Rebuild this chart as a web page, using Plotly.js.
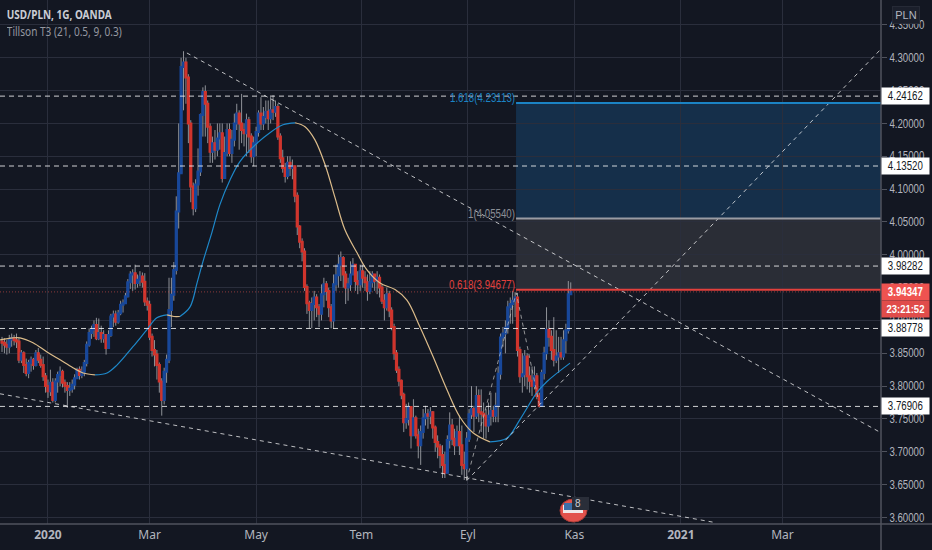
<!DOCTYPE html>
<html><head><meta charset="utf-8">
<script src="https://cdn.plot.ly/plotly-3.0.1.min.js"></script>
<style>html,body{margin:0;padding:0;background:#131722}#c{width:932px;height:550px}</style>
</head><body><div id="c"></div>
<script>
const closes=[
3.866,3.863,3.860,3.871,3.873,3.870,3.868,3.840,3.850,3.832,
3.820,3.835,3.840,3.832,3.850,3.840,3.832,3.815,3.800,3.792,
3.805,3.779,3.807,3.817,3.822,3.805,3.800,3.794,3.796,3.802,
3.812,3.825,3.817,3.822,3.835,3.863,3.881,3.886,3.893,3.873,
3.881,3.873,3.878,3.858,3.878,3.906,3.909,3.898,3.911,3.924,
3.926,3.937,3.958,3.970,3.972,3.957,3.962,3.967,3.959,3.929,
3.924,3.875,3.855,3.848,3.832,3.807,3.779,3.822,3.840,3.916,
3.939,3.977,
4.066,4.124,4.286,4.293,4.270,4.200,4.104,4.071,4.107,4.127,
4.213,4.248,4.230,4.195,4.157,4.170,4.160,4.177,4.185,4.117,
4.155,4.190,4.155,4.175,4.200,4.215,4.200,4.190,4.185,4.205,
4.180,4.150,4.170,4.187,4.215,4.200,4.210,4.218,4.208,4.220,
4.218,4.225,4.180,4.147,4.132,4.120,4.140,4.132,4.135,4.090,
4.043,
4.020,4.005,3.951,3.926,3.916,3.925,3.935,3.920,3.910,3.940,
3.955,3.945,3.920,3.900,3.955,3.969,3.985,3.995,3.970,3.950,
3.955,3.970,3.985,3.960,3.955,3.975,3.965,3.958,3.945,3.958,
3.970,3.960,3.965,3.950,3.930,3.920,3.940,3.915,3.890,3.850,
3.825,3.808,3.787,3.745,3.750,3.768,3.725,3.751,3.725,3.710,
3.730,3.751,3.757,3.755,3.760,3.737,3.715,3.708,3.695,3.680,
3.668,3.718,3.740,3.720,3.710,3.730,3.710,3.680,3.675,3.720,
3.757,3.765,3.755,3.785,3.760,3.758,3.755,3.740,3.755,3.762,
3.755,3.770,3.819,3.874,3.880,3.889,3.920,3.925,3.930,3.935,
3.855,3.815,3.818,3.845,3.815,3.808,3.800,3.815,3.785,3.770,
3.820,3.850,3.886,3.875,3.855,3.840,3.845,3.850,3.845,3.870,
3.885,3.940,3.9435];
const highs=[
3.875,3.873,3.870,3.878,3.880,3.878,3.880,3.873,3.855,3.853,
3.842,3.840,3.845,3.843,3.855,3.858,3.848,3.845,3.820,3.810,
3.825,3.812,3.812,3.822,3.830,3.825,3.810,3.806,3.806,3.810,
3.818,3.828,3.830,3.830,3.840,3.868,3.888,3.892,3.900,3.904,
3.903,3.892,3.885,3.878,3.885,3.910,3.915,3.915,3.916,3.930,
3.932,3.942,3.963,3.975,3.978,3.985,3.970,3.975,3.973,3.972,
3.935,3.930,3.880,3.870,3.855,3.836,3.812,3.828,3.848,3.965,
3.965,3.989,
4.089,4.200,4.300,4.310,4.300,4.275,4.205,4.110,4.115,4.162,
4.215,4.255,4.258,4.235,4.200,4.180,4.190,4.200,4.200,4.200,
4.180,4.200,4.200,4.190,4.215,4.230,4.220,4.245,4.200,4.215,
4.210,4.185,4.180,4.195,4.220,4.240,4.225,4.235,4.235,4.240,
4.243,4.235,4.230,4.185,4.160,4.140,4.150,4.150,4.145,4.135,
4.095,
4.045,4.025,4.010,3.955,3.930,3.935,3.945,3.940,3.925,3.955,
3.965,3.960,3.950,3.925,3.970,3.985,4.000,4.005,3.998,3.975,
3.965,3.990,3.995,3.985,3.975,3.985,3.985,3.975,3.970,3.975,
3.975,3.970,3.975,3.970,3.955,3.940,3.950,3.945,3.920,3.895,
3.855,3.830,3.810,3.790,3.773,3.775,3.760,3.780,3.755,3.735,
3.740,3.765,3.770,3.765,3.768,3.762,3.740,3.725,3.712,3.710,
3.700,3.725,3.760,3.750,3.735,3.740,3.755,3.740,3.700,3.730,
3.765,3.800,3.770,3.800,3.795,3.795,3.775,3.765,3.775,3.790,
3.770,3.790,3.830,3.880,3.890,3.900,3.930,3.935,3.945,3.943,
3.942,3.860,3.850,3.855,3.850,3.830,3.830,3.830,3.820,3.790,
3.825,3.860,3.920,3.900,3.885,3.905,3.885,3.875,3.875,3.885,
3.895,3.960,3.958];
const lows=[
3.852,3.850,3.848,3.850,3.860,3.862,3.858,3.835,3.835,3.820,
3.815,3.812,3.822,3.825,3.830,3.835,3.828,3.808,3.790,3.782,
3.785,3.775,3.775,3.790,3.800,3.798,3.790,3.767,3.785,3.790,
3.795,3.812,3.810,3.812,3.815,3.830,3.860,3.872,3.875,3.870,
3.870,3.866,3.866,3.848,3.858,3.875,3.890,3.892,3.895,3.908,
3.912,3.925,3.935,3.948,3.945,3.947,3.950,3.952,3.950,3.922,
3.915,3.870,3.845,3.830,3.810,3.790,3.755,3.772,3.805,3.835,
3.890,3.930,
3.970,4.040,4.165,4.220,4.230,4.170,4.080,4.060,4.065,4.090,
4.120,4.180,4.180,4.170,4.140,4.140,4.145,4.150,4.160,4.110,
4.125,4.150,4.150,4.140,4.165,4.190,4.160,4.170,4.165,4.150,
4.155,4.140,4.135,4.150,4.180,4.190,4.190,4.200,4.190,4.200,
4.205,4.210,4.175,4.140,4.125,4.110,4.115,4.120,4.115,4.080,
4.030,
4.010,3.990,3.945,3.910,3.888,3.888,3.900,3.905,3.890,3.900,
3.920,3.930,3.905,3.888,3.888,3.945,3.950,3.960,3.950,3.925,
3.930,3.945,3.970,3.945,3.940,3.945,3.950,3.945,3.930,3.940,
3.950,3.945,3.940,3.935,3.925,3.900,3.915,3.905,3.885,3.840,
3.820,3.800,3.780,3.730,3.735,3.740,3.705,3.730,3.720,3.690,
3.680,3.720,3.740,3.735,3.742,3.720,3.700,3.690,3.675,3.660,
3.660,3.680,3.705,3.710,3.695,3.710,3.695,3.665,3.657,3.657,
3.715,3.750,3.730,3.750,3.745,3.730,3.720,3.720,3.730,3.740,
3.745,3.745,3.745,3.810,3.860,3.850,3.880,3.895,3.895,3.905,
3.845,3.805,3.790,3.800,3.795,3.790,3.785,3.795,3.780,3.767,
3.770,3.810,3.840,3.860,3.840,3.830,3.835,3.820,3.840,3.840,
3.850,3.880,3.940];
const firstOpen=3.868;
const firstDay=-19;

const t3Days=[-19.8,-14.5,-11.6,-6.2,-0.4,5,10.3,14.5,19.4,24.4,28.5,35.1,40.9,45,49.2,52,54.5,58.7,61.6,64,67.8,71,75.2,79.3,86.4,91.7,97.1,102.1,106.2,110.3,114.5,118.6,122.7,127.7,131.8,137.2,143.4,148.3,153.7,159.1,164.9,170.2,175.6,182.6,189.7,195,202,206.2,215.7];
const t3Vals=[3.8705,3.8735,3.8735,3.866,3.852,3.84,3.828,3.82,3.817,3.82,3.832,3.86,3.886,3.904,3.9085,3.906,3.906,3.9207,3.9573,3.9892,4.0349,4.076,4.114,4.142,4.17,4.186,4.198,4.201,4.195,4.175,4.137,4.087,4.038,4.003,3.977,3.957,3.947,3.931,3.89,3.845,3.794,3.753,3.729,3.715,3.721,3.749,3.79,3.807,3.835];
const t3Turns=[0,8,14,16,27,43,48];
const t3Colors=['#dcbc8a','#1e88c9','#dcbc8a','#1e88c9','#dcbc8a','#1e88c9'];

const hLevels=[4.24162,4.13520,3.98282,3.88778,3.76906];
const lastPrice=3.94347;
const countdown='23:21:52';

const fibStartDay=193.4;
const fibLevels=[4.23113,4.05540,3.94677];
const fibLabels=['1.618(4.23113)','1(4.05540)','0.618(3.94677)'];

const trendDays=[[57.4,344.2],[-19.83,276],[173,344.2],[173,193.5,203]];
const trendVals=[[4.3073,3.729],[3.7883,3.592],[3.656,4.3134],[3.657,3.942,3.772]];
const trendColors=['rgba(255,255,255,.72)','rgba(255,255,255,.72)','rgba(255,255,255,.72)','rgba(190,190,190,.75)'];

const monthTicks=[0,42,86,129.5,173.5,217.5,261.5,303.5];
const monthLabels=['<b>2020</b>','Mar','May','Tem','Eyl','Kas','<b>2021</b>','Mar'];
const priceTicks=[3.6,3.65,3.7,3.75,3.8,3.85,3.9,3.95,4.0,4.05,4.1,4.15,4.2,4.25,4.3,4.35];

const days=closes.map((_,i)=>firstDay+i);
const opens=closes.map((_,i)=>i?closes[i-1]:firstOpen);
const bodyHi=closes.map((c,i)=>Math.max(c,opens[i]));
const bodyLo=closes.map((c,i)=>Math.min(c,opens[i]));

const traces=[
 {type:'candlestick',x:days,open:opens,high:highs,low:lows,close:closes,whiskerwidth:0,hoverinfo:'skip',showlegend:false,
  increasing:{line:{color:'#9d9fa5',width:0.9},fillcolor:'#9d9fa5'},decreasing:{line:{color:'#9d9fa5',width:0.9},fillcolor:'#9d9fa5'}},
 {type:'candlestick',x:days,open:opens,high:bodyHi,low:bodyLo,close:closes,whiskerwidth:0,hoverinfo:'skip',showlegend:false,
  increasing:{line:{color:'#17479a',width:2},fillcolor:'#17479a'},decreasing:{line:{color:'#d0342c',width:2},fillcolor:'#d0342c'}}
];
t3Colors.forEach((col,k)=>{
 const a=t3Turns[k],b=t3Turns[k+1]+1;
 traces.push({type:'scatter',mode:'lines',x:t3Days.slice(a,b),y:t3Vals.slice(a,b),line:{color:col,width:1.2,shape:'spline'},hoverinfo:'skip',showlegend:false});
});
trendDays.forEach((d,k)=>{
 traces.push({type:'scatter',mode:'lines',x:d,y:trendVals[k],line:{color:trendColors[k],width:1,dash:'4px,4px'},hoverinfo:'skip',showlegend:false});
});

const PW=881,PH=524;
const px=v=>v/PW, py=v=>1-v/PH;
const shapes=[
 {type:'rect',xref:'x',x0:fibStartDay,x1:344.2,yref:'y',y0:fibLevels[1],y1:fibLevels[0],fillcolor:'#15304d',line:{width:0},layer:'below',opacity:.95},
 {type:'rect',xref:'x',x0:fibStartDay,x1:344.2,yref:'y',y0:fibLevels[2],y1:fibLevels[1],fillcolor:'#2a2d36',line:{width:0},layer:'below'},
 {type:'line',xref:'x',x0:fibStartDay,x1:344.2,yref:'y',y0:fibLevels[0],y1:fibLevels[0],line:{color:'#1b83c4',width:2}},
 {type:'line',xref:'x',x0:fibStartDay,x1:344.2,yref:'y',y0:fibLevels[1],y1:fibLevels[1],line:{color:'#9a9ca3',width:2}},
 {type:'line',xref:'x',x0:fibStartDay,x1:344.2,yref:'y',y0:fibLevels[2],y1:fibLevels[2],line:{color:'#e2403c',width:2}},
 {type:'line',xref:'paper',x0:0,x1:1,yref:'y',y0:lastPrice,y1:lastPrice,line:{color:'rgba(239,83,80,.55)',width:1,dash:'1px,2px'}},
 {type:'line',xref:'paper',x0:1,x1:1,yref:'paper',y0:py(550),y1:1,line:{color:'#50535e',width:1.5}},
 {type:'line',xref:'paper',x0:0,x1:px(932),yref:'paper',y0:0,y1:0,line:{color:'#50535e',width:1.5}},
 {type:'circle',xref:'paper',yref:'paper',x0:px(560),x1:px(587),y0:py(499),y1:py(522),fillcolor:'#e2524c',line:{width:1,color:'#a83a36'}},
 {type:'rect',xref:'paper',yref:'paper',x0:px(563),x1:px(583),y0:py(505),y1:py(513),fillcolor:'#f0e8e8',line:{width:0}},
 {type:'rect',xref:'paper',yref:'paper',x0:px(564),x1:px(572),y0:py(503),y1:py(510),fillcolor:'#3b6ea8',line:{width:0}},
 {type:'rect',xref:'paper',yref:'paper',x0:px(572),x1:px(589),y0:py(497),y1:py(510),fillcolor:'#2a2e39',line:{width:0}}
];
hLevels.forEach(v=>shapes.push({type:'line',xref:'paper',x0:0,x1:1,yref:'y',y0:v,y1:v,line:{color:'rgba(255,255,255,.8)',width:1,dash:'5px,4px'}}));

const SANS='"Liberation Sans",sans-serif';
const anns=[
 {xref:'paper',yref:'paper',x:px(7),y:py(15),xanchor:'left',yanchor:'middle',showarrow:false,text:'<b>USD/PLN, 1G, OANDA</b>',font:{family:'"Noto Sans",sans-serif',size:12,color:'#c9ccd4'},width:105,borderpad:0,borderwidth:0},
 {xref:'paper',yref:'paper',x:px(7),y:py(31),xanchor:'left',yanchor:'middle',showarrow:false,text:'Tillson T3 (21, 0.5, 9, 0.3)',font:{family:'"Noto Sans",sans-serif',size:12,color:'#9598a1'},width:115,borderpad:0,borderwidth:0},
 {xref:'paper',yref:'paper',x:px(906),y:py(15),xanchor:'center',yanchor:'middle',showarrow:false,text:'PLN',font:{family:SANS,size:11,color:'#b2b5be'},bgcolor:'#1b1f2b',bordercolor:'#262a36',borderwidth:1,borderpad:1,width:24,height:14},
 {xref:'paper',yref:'paper',x:px(577.5),y:py(503.5),xanchor:'center',yanchor:'middle',showarrow:false,text:'8',font:{family:SANS,size:10,color:'#c9ccd4'}}
];
const fibColors=['#1b83c4','#8b8e96','#e2403c'];
const fibWidths=[65,47,66];
fibLabels.forEach((t,i)=>anns.push({xref:'x',yref:'y',x:fibStartDay,y:fibLevels[i],xanchor:'right',yanchor:'bottom',xshift:0,yshift:[-3,-4,-3][i],showarrow:false,text:t,font:{family:SANS,size:12,color:fibColors[i]},width:fibWidths[i],borderpad:0}));
hLevels.forEach(v=>anns.push({xref:'paper',yref:'y',x:1,y:v,xanchor:'left',yanchor:'middle',showarrow:false,text:v.toFixed(5),font:{family:SANS,size:12,color:'#131722'},bgcolor:'#ffffff',width:45,height:14,align:'center'}));
anns.push({xref:'paper',yref:'y',x:1,y:lastPrice,xanchor:'left',yanchor:'middle',showarrow:false,text:'<b>'+lastPrice.toFixed(5)+'</b>',font:{family:SANS,size:12,color:'#ffffff'},bgcolor:'#ef5350',width:45,height:14,align:'center'});
anns.push({xref:'paper',yref:'paper',x:1,y:py(309),xanchor:'left',yanchor:'middle',showarrow:false,text:'<b>'+countdown+'</b>',font:{family:SANS,size:10.5,color:'#ffffff'},bgcolor:'#e04c4a',width:45,height:14,align:'center'});

const layout={
 width:932,height:550,margin:{l:0,r:51,t:0,b:26,pad:0},
 paper_bgcolor:'#131722',plot_bgcolor:'#131722',showlegend:false,
 xaxis:{type:'linear',range:[-19.83,344.2],tickmode:'array',tickvals:monthTicks,ticktext:monthLabels,showgrid:true,gridcolor:'#2a2e3c',gridwidth:1,zeroline:false,showline:false,ticks:'',tickangle:0,ticklabelstandoff:2,rangeslider:{visible:false},tickfont:{family:'"Noto Sans",sans-serif',size:12,color:'#b2b5be'},automargin:false},
 yaxis:{side:'right',range:[3.59,4.388],tickmode:'array',tickvals:priceTicks,ticktext:priceTicks.map(v=>v.toFixed(5)),showgrid:true,gridcolor:'#2a2e3c',gridwidth:1,zeroline:false,showline:false,ticks:'outside',ticklen:5,tickcolor:'#50535e',tickfont:{family:SANS,size:12,color:'#b2b5be'},automargin:false},
 shapes:shapes,annotations:anns
};
const squeezeWidths={'USD/PLN, 1G, OANDA':105,'Tillson T3 (21, 0.5, 9, 0.3)':115,'1.618(4.23113)':65,'1(4.05540)':47,'0.618(3.94677)':66,'23:21:52':38};
function squeeze(el,len){el.setAttribute('textLength',len);el.setAttribute('lengthAdjust','spacingAndGlyphs');}
Plotly.newPlot('c',traces,layout,{staticPlot:true,displayModeBar:false}).then(gd=>{
 gd.querySelectorAll('.ytick text').forEach(t=>squeeze(t,35));
 gd.querySelectorAll('.annotation-text').forEach(t=>{
  const s=t.textContent;
  if(squeezeWidths[s]) squeeze(t,squeezeWidths[s]);
  else if(/^\d\.\d{5}$/.test(s)) squeeze(t,35);
 });
});
</script></body></html>
